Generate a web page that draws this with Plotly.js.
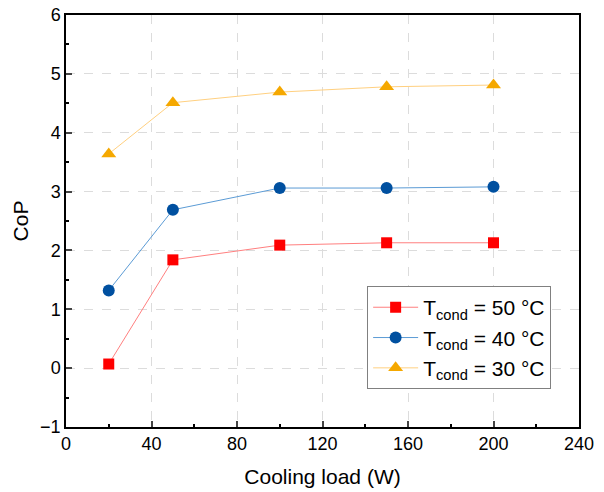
<!DOCTYPE html>
<html><head><meta charset="utf-8">
<script src="https://cdn.plot.ly/plotly-3.0.1.min.js"></script>
<style>body{margin:0;padding:0;}#plot{width:604px;height:492px;}</style>
</head><body><div id="plot"></div>
<script>
const coolingLoad = [20, 50, 100, 150, 200];
const cop50 = [0.07, 1.84, 2.09, 2.13, 2.13];
const cop40 = [1.32, 2.69, 3.06, 3.06, 3.08];
const cop30 = [3.64, 4.51, 4.69, 4.78, 4.81];
const seriesNames = ["T<sub>cond</sub> = 50 °C", "T<sub>cond</sub> = 40 °C", "T<sub>cond</sub> = 30 °C"];
const xTicks = [0, 40, 80, 120, 160, 200, 240];
const yTicks = [-1, 0, 1, 2, 3, 4, 5, 6];

function tr(y, name, lineColor, markerColor, symbol, size) {
  return {x: coolingLoad, y: y, name: name, mode: 'lines+markers', type: 'scatter',
    line: {color: lineColor, width: 1},
    marker: {color: markerColor, symbol: symbol, size: size}};
}
const data = [
  tr(cop50, seriesNames[0], '#ff7f7f', '#ff0000', 'square', 11),
  tr(cop40, seriesNames[1], '#5b9bd5', '#0050a0', 'circle', 12),
  tr(cop30, seriesNames[2], '#ffd080', '#f5a800', 'triangle-up', 13)
];
const font = {family: 'Liberation Sans, Arial, sans-serif', color: '#000'};
const layout = {
  width: 604, height: 492,
  margin: {l: 66, r: 25, t: 15, b: 65},
  paper_bgcolor: '#fff', plot_bgcolor: '#fff',
  font: font,
  showlegend: true,
  legend: {x: 0.587, y: 0.342, xanchor: 'left', yanchor: 'top',
    bordercolor: '#808080', borderwidth: 1, bgcolor: '#fff', itemwidth: 45,
    font: {family: font.family, size: 21, color: '#000'}, tracegroupgap: 0},
  xaxis: {range: [0, 240], tickvals: xTicks, ticks: 'inside', ticklen: 6, tickwidth: 1.5,
    showline: true, linecolor: '#000', linewidth: 1.5, mirror: true,
    showgrid: true, gridcolor: '#dcdcdc', griddash: 'dash', gridwidth: 1, zeroline: false,
    tickfont: {size: 18}, title: {text: 'Cooling load (W)', font: {size: 21}, standoff: 16},
    minor: {dtick: 20, ticks: 'inside', ticklen: 3, tickwidth: 1.5, tickcolor: '#000', showgrid: false}},
  yaxis: {range: [-1, 6], tickvals: yTicks, ticks: 'inside', ticklen: 6, tickwidth: 1.5,
    showline: true, linecolor: '#000', linewidth: 1.5, mirror: true,
    showgrid: true, gridcolor: '#dcdcdc', griddash: 'dash', gridwidth: 1, zeroline: false,
    tickfont: {size: 18}, title: {text: 'CoP', font: {size: 21}, standoff: 6},
    minor: {dtick: 0.5, ticks: 'inside', ticklen: 3, tickwidth: 1.5, tickcolor: '#000', showgrid: false}}
};
Plotly.newPlot('plot', data, layout, {displayModeBar: false});
</script></body></html>
